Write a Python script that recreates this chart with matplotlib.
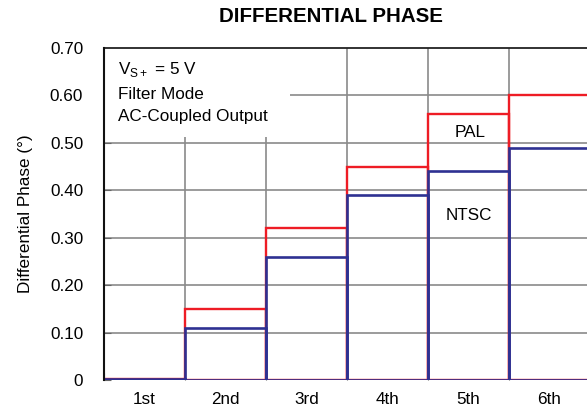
import matplotlib
matplotlib.use('Agg')
from matplotlib import pyplot as plt
from matplotlib.patches import Rectangle

plt.rcParams['font.family'] = ['Liberation Sans', 'DejaVu Sans']

harmonics = ['1st', '2nd', '3rd', '4th', '5th', '6th']
pal = [0.002, 0.15, 0.32, 0.45, 0.56, 0.60]
ntsc = [0.002, 0.11, 0.26, 0.39, 0.44, 0.49]
y_ticks = [0, 0.10, 0.20, 0.30, 0.40, 0.50, 0.60, 0.70]
y_labels = ['0', '0.10', '0.20', '0.30', '0.40', '0.50', '0.60', '0.70']

red = '#ee1c25'
blue = '#2e3192'
grid_col = '#8a8a8a'
fs = 12.3

fig = plt.figure(figsize=(5.87, 4.13), dpi=100)
ax = fig.add_axes([104 / 587, 33 / 413, 486 / 587, 332 / 413])

pos = list(range(len(harmonics)))
ax.bar(pos, pal, width=1, align='edge', fill=False, edgecolor=red, linewidth=1.7, zorder=3)
ax.bar(pos, ntsc, width=1, align='edge', fill=False, edgecolor=blue, linewidth=1.9, zorder=4)

ax.set_xlim(0, 6)
ax.set_ylim(0, 0.70)

# grid drawn by hand so the note box can hide it but not the ticks
for yv in y_ticks[1:-1]:
    ax.axhline(yv, color=grid_col, linewidth=1.2, zorder=1)
for xv in range(1, 6):
    ax.axvline(xv, color=grid_col, linewidth=1.2, zorder=1)

ax.set_xticks(range(7))
ax.set_xticklabels([])
ax.set_xticks([p + 0.5 for p in pos], minor=True)
ax.set_xticklabels(harmonics, minor=True, fontsize=fs)
ax.tick_params(axis='x', which='minor', length=0, pad=9)
ax.tick_params(axis='x', which='major', direction='in', length=5, color='#666666')
ax.set_yticks(y_ticks)
ax.set_yticklabels(y_labels, fontsize=fs)
ax.tick_params(axis='y', direction='in', length=5, pad=15, color='#666666')

for side in ['right', 'bottom']:
    ax.spines[side].set_visible(False)
ax.spines['left'].set_color('#111111')
ax.spines['left'].set_linewidth(1.5)
ax.spines['left'].set_zorder(6)
ax.spines['top'].set_color('#222222')
ax.spines['top'].set_linewidth(1.3)

ax.add_patch(Rectangle((0, 0.513), 2.3, 0.19, facecolor='white', edgecolor='none', zorder=2))
ax.text(0.17, 0.659, r'V$_{\mathregular{S+}}$ = 5 V', fontsize=fs, va='center_baseline', zorder=5)
ax.text(0.17, 0.606, 'Filter Mode', fontsize=fs, va='center_baseline', zorder=5)
ax.text(0.17, 0.559, 'AC-Coupled Output', fontsize=fs, va='center_baseline', zorder=5)

ax.text(4.52, 0.525, 'PAL', fontsize=fs, ha='center', va='center_baseline', zorder=5)
ax.text(4.5, 0.35, 'NTSC', fontsize=fs, ha='center', va='center_baseline', zorder=5)

ax.set_ylabel('Differential Phase (°)', fontsize=fs, labelpad=12)
fig.text(331 / 587, 1 - 17 / 413, 'DIFFERENTIAL PHASE', fontsize=14.8, fontweight='bold',
         ha='center', va='center')

fig.savefig('out.png', dpi=100)
